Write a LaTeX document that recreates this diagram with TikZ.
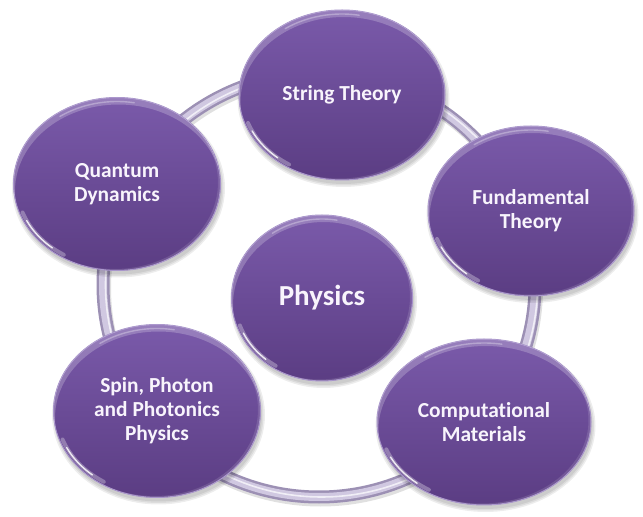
\documentclass[tikz,border=0pt]{standalone}
\usepackage{fontspec}
\setmainfont{Carlito}[Ligatures={NoCommon}]
\usetikzlibrary{shapes.geometric}
\definecolor{bubtop}{HTML}{7A5AAA}
\definecolor{bubbot}{HTML}{5B3D83}
\definecolor{bubrim}{HTML}{A38EC8}
\definecolor{ringedge}{HTML}{9C90B4}
\definecolor{ringmid}{HTML}{D0C8E1}
\definecolor{txt}{HTML}{F8F4FC}
\tikzset{
  bubble/.style={ellipse, inner sep=0pt, outer sep=0pt, align=center, text=txt,
    font=\bfseries\fontsize{21.4}{24}\selectfont,
    top color=bubtop, bottom color=bubbot, draw=bubrim, line width=1pt},
  bigtext/.style={font=\bfseries\fontsize{29}{34}\selectfont},
  softshadow/.style={fill=black, opacity=0.07},
  glint/.style={white, line cap=round},
}
\newcommand\mybubble[7][]{%
  \foreach \s in {0,1.5,3}{
    \fill[softshadow] (#3+1.5,#4-4) ellipse [x radius=#5+\s, y radius=#6+\s];
  }
  \node[bubble, minimum width={2*#5}, minimum height={2*#6}, #1] (#2) at (#3,#4) {#7};
  \begin{scope}
    \clip (#3,#4) ellipse [x radius=#5, y radius=#6];
    \fill[white, opacity=0.22, even odd rule] (#3,#4) ellipse [x radius=#5, y radius=#6]
      (#3+1.5,#4-7) ellipse [x radius=#5, y radius=#6];
    \fill[white, opacity=0.12, even odd rule] (#3,#4) ellipse [x radius=#5, y radius=#6]
      (#3-2.5,#4+1.5) ellipse [x radius=#5, y radius=#6];
  \end{scope}
  \draw[glint, opacity=0.3, line width=4]
    ({#3+(#5-3)*cos(200)},{#4+(#6-3)*sin(200)})
    arc[start angle=200, end angle=238, x radius={#5-3}, y radius={#6-3}];
  \draw[glint, opacity=0.85, line width=1.4]
    ({#3+(#5-3)*cos(206)},{#4+(#6-3)*sin(206)})
    arc[start angle=206, end angle=230, x radius={#5-3}, y radius={#6-3}];
  \draw[glint, opacity=0.3, line width=1.4]
    ({#3+(#5-4)*cos(80)},{#4+(#6-4)*sin(80)})
    arc[start angle=80, end angle=125, x radius={#5-4}, y radius={#6-4}];
}
\begin{document}
\begin{tikzpicture}[x=1pt,y=1pt]
  \useasboundingbox[fill=white] (0,0) rectangle (643,517);
  % ring
  \coordinate (rc) at (319,232);
  \draw[black, opacity=0.12, line width=13] ([shift={(1.5,-3)}]rc) ellipse [x radius=216, y radius=212];
  \draw[ringedge, line width=13] (rc) ellipse [x radius=216, y radius=212];
  \draw[ringmid, line width=8] (rc) ellipse [x radius=216, y radius=212];
  \draw[white, opacity=0.7, line width=1.6] ([shift={(2.5,0)}]rc) ellipse [x radius=216, y radius=212];
  % bubbles
  \mybubble{st}{342}{422}{103}{85}{String Theory}
  \mybubble{qd}{117}{333}{103.5}{86.5}{Quantum\\Dynamics}
  \mybubble{ft}{531}{306}{103}{85}{Fundamental\\Theory}
  \mybubble{sp}{157}{106}{103.5}{86.5}{Spin, Photon\\and Photonics\\Physics}
  \mybubble{cm}{484}{95}{107}{83}{Computational\\Materials}
  \mybubble[bigtext]{ph}{322}{219}{90.5}{83}{Physics}
\end{tikzpicture}
\end{document}
